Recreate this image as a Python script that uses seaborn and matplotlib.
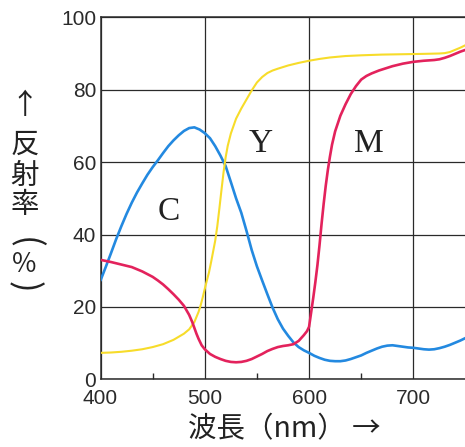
import matplotlib
matplotlib.use("Agg")
import matplotlib.pyplot as plt
from matplotlib.ticker import MultipleLocator, FixedLocator
import seaborn as sns
import pandas as pd

# Spectral reflectance of cyan, yellow and magenta inks
wl_c = [400, 405, 410, 415, 420, 425, 430, 435, 440, 445, 450, 455, 460, 465,
        470, 475, 480, 485, 490, 495, 500, 505, 510, 515, 520, 525, 530, 535,
        540, 545, 550, 555, 560, 565, 570, 575, 580, 585, 590, 595, 600, 605,
        610, 615, 620, 625, 630, 635, 640, 645, 650, 655, 660, 665, 670, 675,
        680, 685, 690, 695, 700, 705, 710, 715, 720, 725, 730, 735, 740, 745, 750]
refl_c = [27.3, 31.0, 34.8, 38.7, 42.3, 45.7, 48.8, 51.6, 54.1, 56.5, 58.6, 60.5,
          62.5, 64.4, 66.0, 67.4, 68.6, 69.4, 69.6, 69.0, 68.0, 66.6, 64.4, 61.8,
          58.9, 54.5, 50.0, 46.0, 41.0, 35.7, 31.2, 27.3, 23.5, 19.8, 16.6, 14.0,
          12.0, 10.2, 8.9, 8.0, 7.3, 6.5, 5.9, 5.4, 5.1, 5.0, 5.0, 5.2, 5.6, 6.1,
          6.6, 7.3, 7.9, 8.5, 9.0, 9.3, 9.4, 9.2, 9.0, 8.8, 8.7, 8.5, 8.3, 8.2,
          8.3, 8.6, 9.0, 9.5, 10.1, 10.7, 11.4]

wl_y = [400, 410, 420, 430, 440, 450, 460, 470, 480, 485, 490, 494, 496, 498,
        500, 502, 504, 506, 508, 510, 512, 514, 516, 518, 520, 522, 525, 530,
        535, 540, 545, 550, 555, 560, 565, 570, 580, 590, 600, 610, 620, 635,
        650, 670, 690, 710, 725, 730, 735, 740, 745, 750]
refl_y = [7.3, 7.4, 7.6, 7.9, 8.3, 8.9, 9.7, 10.9, 12.6, 13.8, 15.8, 18.6, 20.4,
          22.6, 25.0, 27.3, 29.5, 32.3, 35.3, 38.3, 42.3, 47.2, 52.3, 57.2, 61.3,
          64.5, 67.9, 72.0, 74.8, 77.3, 79.8, 82.0, 83.5, 84.6, 85.3, 85.8, 86.7,
          87.4, 88.0, 88.5, 88.9, 89.3, 89.5, 89.7, 89.8, 89.9, 90.0, 90.1, 90.4,
          91.0, 91.6, 92.3]

wl_m = [400, 410, 420, 430, 440, 450, 455, 460, 465, 470, 475, 480, 485, 488,
        490, 492, 494, 497, 500, 505, 510, 515, 520, 525, 530, 535, 540, 545,
        550, 555, 560, 565, 570, 575, 580, 585, 590, 595, 598, 600, 602, 604,
        606, 608, 610, 612, 614, 616, 618, 620, 622, 625, 630, 635, 640, 645,
        650, 655, 660, 667, 680, 690, 700, 710, 720, 725, 730, 735, 740, 745, 750]
refl_m = [33.0, 32.4, 31.7, 31.0, 29.8, 28.3, 27.3, 26.2, 24.9, 23.5, 22.0, 20.3,
          17.8, 15.8, 14.2, 12.6, 11.2, 9.4, 8.3, 7.0, 6.2, 5.6, 5.1, 4.8, 4.7,
          4.8, 5.1, 5.6, 6.3, 7.0, 7.8, 8.4, 8.9, 9.2, 9.4, 9.7, 10.6, 12.2, 13.3,
          14.5, 18.5, 22.5, 26.8, 31.5, 37.0, 43.0, 48.5, 53.5, 57.8, 61.5, 64.8,
          68.5, 72.8, 76.0, 78.8, 81.0, 82.8, 83.8, 84.5, 85.3, 86.5, 87.2, 87.7,
          88.0, 88.2, 88.4, 88.8, 89.3, 89.9, 90.5, 91.0]

curve_names = ["C", "Y", "M"]
curve_colors = ["#2389e0", "#f7dc2a", "#e3225c"]
curve_widths = [1.9, 1.5, 1.9]
label_pos = [(465.4, 44.0), (553.7, 62.7), (657.6, 62.7)]

x_ticks = [400, 500, 600, 700]
y_ticks = [0, 20, 40, 60, 80, 100]

sns.set_theme(style="white")
plt.rcParams["font.family"] = ["Noto Sans CJK JP", "DejaVu Sans"]

W, H = 465, 447
fig = plt.figure(figsize=(W / 100, H / 100), dpi=100, facecolor="white")
ax = fig.add_axes([100.5 / W, (H - 379.3) / H, 365.0 / W, 362.0 / H])

data = [(wl_c, refl_c), (wl_y, refl_y), (wl_m, refl_m)]
for (wl, rf), name, col, lw in zip(data, curve_names, curve_colors, curve_widths):
    df = pd.DataFrame({"wavelength": wl, "reflectance": rf})
    sns.lineplot(data=df, x="wavelength", y="reflectance", ax=ax, color=col,
                 linewidth=lw, estimator=None, sort=False, zorder=3)

for name, (lx, ly) in zip(curve_names, label_pos):
    ax.text(lx, ly, name, ha="center", va="baseline", fontsize=24,
            family="Liberation Serif", color="#222222", zorder=4)

ax.set_xlim(400, 750)
ax.set_ylim(0, 100)
ax.xaxis.set_major_locator(FixedLocator(x_ticks))
ax.yaxis.set_major_locator(FixedLocator(y_ticks))
ax.xaxis.set_minor_locator(MultipleLocator(100, offset=50))
ax.grid(True, which="major", color="#2a2a2a", linewidth=0.9, zorder=1)
ax.set_axisbelow(True)

tick_font = dict(family=["Liberation Sans", "DejaVu Sans"], size=15)
ax.set_xticklabels([str(v) for v in x_ticks], color="#2a2a2a", **tick_font)
ax.set_yticklabels([str(v) for v in y_ticks], color="#2a2a2a", **tick_font)
ax.tick_params(axis="both", which="major", length=0)
ax.tick_params(axis="x", which="major", pad=7)
ax.tick_params(axis="y", which="major", pad=3)
ax.tick_params(axis="x", which="minor", direction="in", length=4.5, width=1.0,
               color="#2a2a2a", bottom=True)
ax.set_xlabel("")
ax.set_ylabel("")
for side in ["left", "bottom", "top"]:
    ax.spines[side].set_color("#2a2a2a")
    ax.spines[side].set_linewidth(1.1)
ax.spines["right"].set_visible(False)

# vertical axis title, one glyph per line; the brackets are turned on their side
cjk = ["Noto Sans CJK JP", "DejaVu Sans"]
for ch, py in [("↑", 105.5), ("反", 145), ("射", 176.5), ("率", 205)]:
    fig.text(24.5 / W, 1 - py / H, ch, ha="center", va="center",
             fontsize=20.5, family=cjk, color="#222222")
fig.text(24.5 / W, 1 - 265 / H, "％", ha="center", va="center",
         fontsize=19, family=cjk, color="#222222")
for ch, py in [("(", 243.0), (")", 287.0)]:
    fig.text(24.0 / W, 1 - py / H, ch, ha="center", va="center", rotation=-90,
             fontsize=25, family=cjk, color="#222222")

fig.text(284 / W, 1 - 429 / H, "波長（nm） →", ha="center", va="center",
         fontsize=20.5, family=cjk, color="#222222")

fig.savefig("out.png", dpi=100, facecolor="white")
